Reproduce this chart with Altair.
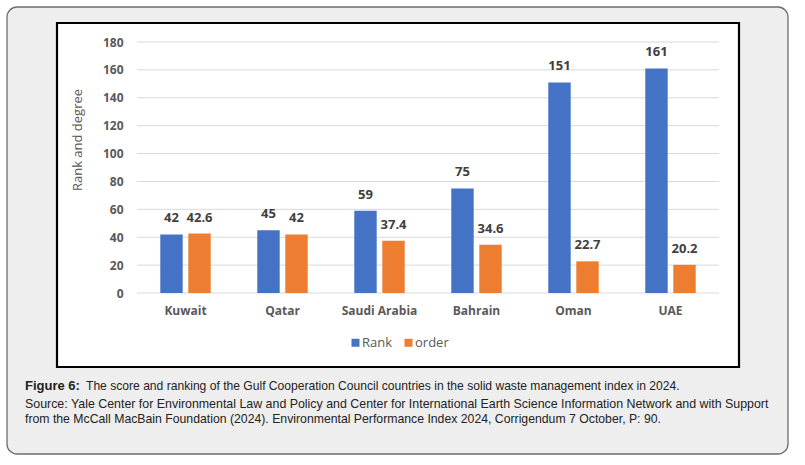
import altair as alt
import pandas as pd

# GCC countries: EPI 2024 solid waste management rank and score
countries = ["Kuwait", "Qatar", "Saudi Arabia", "Bahrain", "Oman", "UAE"]
rank_values = [42, 45, 59, 75, 151, 161]
order_values = [42.6, 42, 37.4, 34.6, 22.7, 20.2]
series_names = ["Rank", "order"]
series_colors = ["#4472C4", "#ED7D31"]
y_ticks = [0, 20, 40, 60, 80, 100, 120, 140, 160, 180]

y_title = "Rank and degree"
caption_bold = "Figure 6:"
caption_rest = ("The score and ranking of the Gulf Cooperation Council countries "
                "in the solid waste management index in 2024.")
source_line1 = ("Source: Yale Center for Environmental Law and Policy and Center for "
                "International Earth Science Information Network and with Support")
source_line2 = ("from the McCall MacBain Foundation (2024). Environmental Performance "
                "Index 2024, Corrigendum 7 October, P: 90.")

rows = []
for c, r, o in zip(countries, rank_values, order_values):
    rows.append({"country": c, "series": "Rank", "value": r})
    rows.append({"country": c, "series": "order", "value": o})
df = pd.DataFrame(rows)
ticks_df = pd.DataFrame({"value": y_ticks})
one = pd.DataFrame({"k": [0]})

FONT = "Open Sans"
CAPTION_FONT = "Liberation Sans"
W, H = 582, 251

x_enc = alt.X(
    "country:N", sort=countries, title=None,
    scale=alt.Scale(paddingInner=0.48, paddingOuter=0.24),
    axis=alt.Axis(domain=False, ticks=False, grid=False, labelAngle=0,
                  labelFont=FONT, labelFontSize=12, labelFontWeight="bold",
                  labelColor="#595959", labelPadding=12, zindex=1),
)
xoff_enc = alt.XOffset("series:N", sort=series_names,
                       scale=alt.Scale(paddingInner=0.2))
y_scale = alt.Scale(domain=[0, 180], nice=False, zero=True)
y_enc = alt.Y(
    "value:Q", scale=y_scale, title=None,
    axis=alt.Axis(values=y_ticks, domain=False, ticks=False, grid=False,
                  labelFont=FONT, labelFontSize=12, labelFontWeight="bold",
                  labelColor="#595959", labelPadding=14, zindex=1),
)

# outer rounded panel
outer = alt.Chart(one).mark_rect(
    fill="#EEEEEE", stroke="#6E6E6E", strokeWidth=1.3, cornerRadius=10
).encode(x=alt.value(-130), x2=alt.value(651), y=alt.value(-35), y2=alt.value(412))

# white chart frame
inner = alt.Chart(one).mark_rect(
    fill="white", stroke="black", strokeWidth=2.2
).encode(x=alt.value(-80), x2=alt.value(602), y=alt.value(-19), y2=alt.value(325))

grid = alt.Chart(ticks_df).mark_rule(color="#D9D9D9", strokeWidth=1).encode(
    y=y_enc, x=alt.value(0), x2=alt.value(W)
)

bars = alt.Chart(df).mark_bar().encode(
    x=x_enc, xOffset=xoff_enc, y=y_enc,
    color=alt.Color(
        "series:N", sort=series_names,
        scale=alt.Scale(domain=series_names, range=series_colors),
        legend=alt.Legend(
            title=None, orient="none", direction="horizontal",
            legendX=212, legendY=294, padding=0,
            symbolType="square", symbolSize=64, symbolStrokeWidth=0,
            labelFont=FONT, labelFontSize=13, labelColor="#595959",
            labelOffset=0, columnPadding=9,
        ),
    ),
)

labels = alt.Chart(df).mark_text(
    font=FONT, fontSize=13, fontWeight="bold", color="#404040",
    baseline="middle", dy=-16
).encode(
    x=x_enc, xOffset=xoff_enc, y=y_enc,
    text=alt.Text("value:Q", format="~g"),
)

ytitle = alt.Chart(one).mark_text(
    text=y_title, angle=270, font=FONT, fontSize=13, color="#595959",
    align="center", baseline="middle"
).encode(x=alt.value(-59), y=alt.value(98))


def caption_line(text, x, y, size, weight="normal"):
    return alt.Chart(one).mark_text(
        text=text, font=CAPTION_FONT, fontSize=size, fontWeight=weight,
        color="#222222", align="left", baseline="middle"
    ).encode(x=alt.value(x), y=alt.value(y))


cap_bold = caption_line(caption_bold, -112, 344, 13, "bold")
cap_rest = caption_line(caption_rest, -51, 344, 12.1)
src1 = caption_line(source_line1, -112, 362, 12.4)
src2 = caption_line(source_line2, -112, 377, 12.25)

chart = alt.layer(
    outer, inner, grid, bars, labels, ytitle, cap_bold, cap_rest, src1, src2
).properties(
    width=W, height=H,
    autosize=alt.AutoSizeParams(type="none"),
    padding={"left": 137, "top": 42, "right": 86, "bottom": 172},
    background="white",
).configure_view(stroke=None)

chart.save("out.html", embed_options={"renderer": "svg", "actions": False})
